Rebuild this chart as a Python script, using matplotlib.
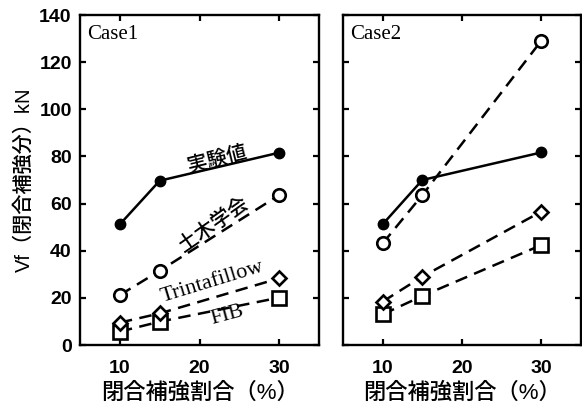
import matplotlib.pyplot as plt

plt.rcParams['font.family'] = ['Liberation Sans', 'Noto Sans CJK JP']

# Data: closed-hoop reinforcement ratio (%) vs. shear contribution Vf (kN)
ratio = [10, 15, 30]

case1_exp = [51.2, 69.7, 81.6]
case1_jsce = [21.2, 31.5, 63.6]
case1_trin = [9.5, 13.4, 28.3]
case1_fib = [5.7, 9.9, 20.1]

case2_exp = [51.2, 70.0, 81.7]
case2_jsce = [43.1, 63.6, 129.1]
case2_trin = [18.4, 29.0, 56.6]
case2_fib = [13.0, 20.8, 42.4]

yticks = [0, 20, 40, 60, 80, 100, 120, 140]
xticks = [10, 20, 30]

fig = plt.figure(figsize=(5.82, 4.08), dpi=100)
ax1 = fig.add_axes([0.1375, 0.1544, 0.4107, 0.8088])
ax2 = fig.add_axes([0.5893, 0.1544, 0.4090, 0.8088])

dash = (0, (5, 3))


def draw(ax, exp, jsce, trin, fib):
    ax.plot(ratio, exp, color='black', lw=1.8, marker='o', ms=7.5,
            mfc='black', mec='black', zorder=5)
    ax.plot(ratio, jsce, color='black', lw=1.8, ls=dash, marker='o', ms=9,
            mfc='white', mec='black', mew=1.9, zorder=4)
    ax.plot(ratio, trin, color='black', lw=1.8, ls=dash, marker='D', ms=7.5,
            mfc='white', mec='black', mew=1.9, zorder=4)
    ax.plot(ratio, fib, color='black', lw=1.8, ls=dash, marker='s', ms=10,
            mfc='white', mec='black', mew=1.9, zorder=3)
    ax.set_xlim(5, 35)
    ax.set_ylim(0, 140)
    ax.set_xticks(xticks)
    ax.set_yticks(yticks)
    ax.tick_params(direction='in', length=4, width=1.6, labelsize=14,
                   top=True, right=True, pad=11)
    ax.tick_params(axis='y', pad=6)
    for lbl in ax.get_xticklabels() + ax.get_yticklabels():
        lbl.set_fontweight('bold')
    for s in ax.spines.values():
        s.set_linewidth(1.7)
    ax.set_xlabel('閉合補強割合（%）', fontsize=16, fontweight='medium',
                  labelpad=4)


draw(ax1, case1_exp, case1_jsce, case1_trin, case1_fib)
draw(ax2, case2_exp, case2_jsce, case2_trin, case2_fib)
ax2.set_yticklabels([])

ax1.set_ylabel('Vf（閉合補強分）kN', fontsize=14.5, fontweight='medium',
               labelpad=4)

serif = ['Liberation Serif']
ax1.text(0.03, 0.97, 'Case1', transform=ax1.transAxes, ha='left', va='top',
         fontsize=15, family=serif)
ax2.text(0.03, 0.97, 'Case2', transform=ax2.transAxes, ha='left', va='top',
         fontsize=15, family=serif)

# Curve labels in the Case1 panel
ax1.text(22.3, 78.5, '実験値', rotation=14, ha='center', va='center',
         fontsize=14.5, fontweight='medium')
ax1.text(21.8, 51.0, '土木学会', rotation=35, ha='center', va='center',
         fontsize=14.5, fontweight='medium')
ax1.text(21.6, 26.5, 'Trintafillow', rotation=17, ha='center', va='center',
         fontsize=16, family=serif)
ax1.text(23.5, 12.5, 'FIB', rotation=15, ha='center', va='center',
         fontsize=15.5, family=serif)

fig.savefig('out.png', dpi=100)
